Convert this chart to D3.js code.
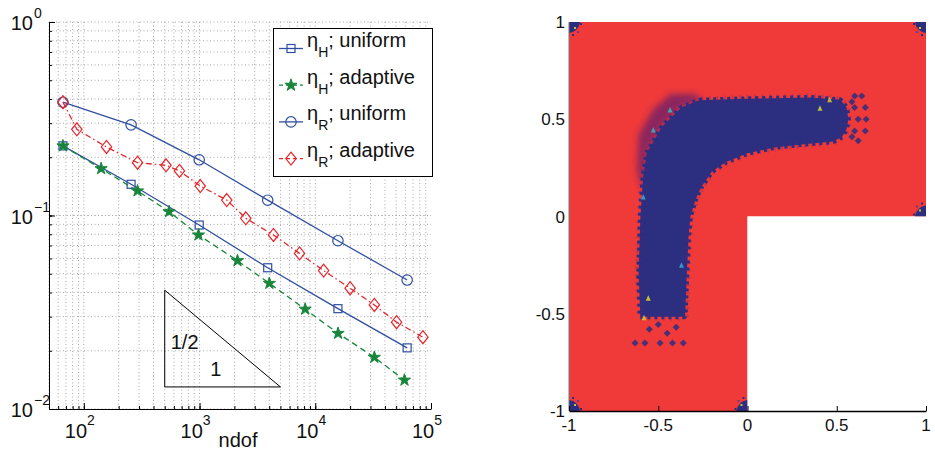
<!DOCTYPE html>
<html>
<head>
<meta charset="utf-8">
<script src="https://cdn.jsdelivr.net/npm/d3@7"></script>
<style>
  body { margin: 0; background: #fff; }
  text { font-family: "Liberation Sans", Arial, sans-serif; fill: #111; }
</style>
</head>
<body>
<script>
// Estimator decay on the L-shaped domain (left) and the indicator field (right)

// ndof of each refinement step
var ndofUniform   = [66, 256, 993, 3880, 15700, 62200];
var ndofHAdaptive = [66, 141, 291, 545, 979, 2128, 4010, 8180, 15740, 32400, 59000];
var ndofRAdaptive = [66, 87, 157, 291, 513, 670, 1014, 1718, 2510, 4350, 7310, 11800, 20000, 32400, 50400, 85100];

// estimator values
var etaHUniform  = [0.229, 0.145, 0.0893, 0.0537, 0.0330, 0.0207];
var etaRUniform  = [0.385, 0.294, 0.194, 0.120, 0.0741, 0.0464];
var etaHAdaptive = [0.229, 0.1746, 0.134, 0.1047, 0.0793, 0.0584, 0.0446, 0.0328, 0.0246, 0.0185, 0.0141];
var etaRAdaptive = [0.385, 0.279, 0.226, 0.1874, 0.1817, 0.170, 0.142, 0.1202, 0.0967, 0.0793, 0.0637, 0.0519, 0.0421, 0.0345, 0.0281, 0.0235];

// decade tick exponents
var xExponents = [2, 3, 4, 5];
var yExponents = [0, -1, -2];

// slope triangle: one decade in ndof, half a decade in eta
var triNdof = [500, 5000];
var triEta  = [0.013, 0.013 * Math.sqrt(10)];

// right panel: domain, band of marked cells, corner clusters
var lDomain = [[-1, -1], [0, -1], [0, 0], [1, 0], [1, 1], [-1, 1]];
var bandOutline = [
  [-0.60, -0.515], [-0.35, -0.515], [-0.34, -0.30], [-0.33, -0.10], [-0.32, 0.00],
  [-0.29, 0.09], [-0.26, 0.15], [-0.20, 0.23], [-0.12, 0.28], [0.00, 0.325],
  [0.15, 0.355], [0.30, 0.37], [0.48, 0.385], [0.53, 0.41], [0.555, 0.45],
  [0.565, 0.50], [0.555, 0.56], [0.52, 0.60], [0.35, 0.612], [0.00, 0.605],
  [-0.27, 0.598], [-0.37, 0.56], [-0.48, 0.46], [-0.565, 0.325], [-0.585, 0.20],
  [-0.60, 0.00], [-0.61, -0.30]
];
var cornerHalo = [
  [-0.585, 0.12], [-0.62, 0.24], [-0.61, 0.42], [-0.53, 0.55], [-0.43, 0.63],
  [-0.30, 0.63], [-0.25, 0.60], [-0.37, 0.56], [-0.48, 0.46], [-0.565, 0.325]
];
var cornerClusters = [[-1, 1, 1, -1], [1, 1, -1, -1], [1, 0, -1, 1], [-1, -1, 1, 1], [0, -1, -1, 1]];
var looseCells = [
  [0.60, 0.62], [0.64, 0.62], [0.60, 0.56], [0.66, 0.56], [0.62, 0.50], [0.665, 0.50],
  [0.60, 0.44], [0.66, 0.44], [0.62, 0.39], [0.585, 0.59], [0.585, 0.41],
  [-0.63, -0.65], [-0.575, -0.65], [-0.49, -0.65], [-0.42, -0.65], [-0.36, -0.65],
  [-0.55, -0.58], [-0.45, -0.60], [-0.40, -0.57], [-0.50, -0.555]
];
var speckles = [
  [-0.556, -0.42, "#e8d62a"], [0.406, 0.556, "#c9d93a"], [-0.528, 0.445, "#2fb5c9"],
  [-0.434, 0.548, "#33c2b8"], [-0.584, 0.10, "#3aa7d8"], [0.46, 0.60, "#d8c532"],
  [-0.37, -0.25, "#3aa7d8"], [-0.58, -0.52, "#e5c92c"]
];
var fieldTicks = [-1, -0.5, 0, 0.5, 1];

var blue = "#2f4fa0", green = "#17863a", red = "#e5262b";
var fieldRed = "#ef3a39", fieldBlue = "#2c2e80";

var svg = d3.select("body").append("svg")
  .attr("width", 935).attr("height", 455);

var defs = svg.append("defs");
defs.append("filter").attr("id", "soft").attr("x", "-30%").attr("y", "-30%")
  .attr("width", "160%").attr("height", "160%")
  .append("feGaussianBlur").attr("stdDeviation", 3);
defs.append("clipPath").attr("id", "lclip").append("polygon");

////////////////////////////////////////////////////////////////
// left panel: log-log convergence plot
var x = d3.scaleLog().domain([50, 1e5]).range([49, 431]);
var y = d3.scaleLog().domain([0.01, 1]).range([409, 22]);

var minorX = [], minorY = [];
[1, 2, 3, 4].forEach(function(e) {
  for (var k = 1; k < 10; k++) {
    var v = k * Math.pow(10, e);
    if (v >= 50 && v <= 1e5) minorX.push(v);
  }
});
[-2, -1].forEach(function(e) {
  for (var k = 1; k <= 10; k++) minorY.push(k * Math.pow(10, e));
});

var grid = svg.append("g");
grid.selectAll("line.gx").data(minorX).enter().append("line")
  .attr("x1", function(d) { return x(d); }).attr("x2", function(d) { return x(d); })
  .attr("y1", y(1)).attr("y2", y(0.01))
  .attr("stroke", "#a8a8a8").attr("stroke-width", 1).attr("stroke-dasharray", "1,2.5");
grid.selectAll("line.gy").data(minorY).enter().append("line")
  .attr("y1", function(d) { return y(d); }).attr("y2", function(d) { return y(d); })
  .attr("x1", x(50)).attr("x2", x(1e5))
  .attr("stroke", "#a8a8a8").attr("stroke-width", 1).attr("stroke-dasharray", "1,2.5");

// axes with inward ticks
var majorX = xExponents.map(function(e) { return Math.pow(10, e); });
var majorY = yExponents.map(function(e) { return Math.pow(10, e); });

svg.append("g").attr("transform", "translate(0," + y(0.01) + ")")
  .call(d3.axisBottom(x).tickValues(minorX).tickSize(-3).tickFormat(""))
  .call(function(g) { g.select(".domain").remove(); });
svg.append("g").attr("transform", "translate(0," + y(0.01) + ")")
  .call(d3.axisBottom(x).tickValues(majorX).tickSize(-6).tickSizeOuter(0).tickFormat(""));
svg.append("g").attr("transform", "translate(" + x(50) + ",0)")
  .call(d3.axisLeft(y).tickValues(minorY).tickSize(-3).tickFormat(""))
  .call(function(g) { g.select(".domain").remove(); });
svg.append("g").attr("transform", "translate(" + x(50) + ",0)")
  .call(d3.axisLeft(y).tickValues(majorY).tickSize(-6).tickSizeOuter(0).tickFormat(""));
svg.selectAll(".domain").attr("stroke", "#000");
svg.selectAll(".tick line").attr("stroke", "#000");

// decade labels written as 10^e
xExponents.forEach(function(e) {
  var t = svg.append("text").attr("x", x(Math.pow(10, e)) - 4).attr("y", 438)
    .attr("font-size", 20).attr("text-anchor", "middle");
  t.append("tspan").text("10");
  t.append("tspan").attr("font-size", 14).attr("dy", -13).text(String(e));
});
yExponents.forEach(function(e) {
  var ty = y(Math.pow(10, e));
  svg.append("text").attr("x", 33).attr("y", ty + 8)
    .attr("font-size", 20).attr("text-anchor", "end").text("10");
  svg.append("text").attr("x", 34).attr("y", ty - 4)
    .attr("font-size", 14).text(e === 0 ? "0" : "\u2212" + (-e));
});
svg.append("text").attr("x", 238).attr("y", 447)
  .attr("font-size", 20).attr("text-anchor", "middle").text("ndof");

// slope triangle
var tri = [[triNdof[0], triEta[1]], [triNdof[0], triEta[0]], [triNdof[1], triEta[0]]];
svg.append("path")
  .attr("d", d3.line().x(function(d) { return x(d[0]); }).y(function(d) { return y(d[1]); })(tri) + "Z")
  .attr("fill", "none").attr("stroke", "#000").attr("stroke-width", 1);
svg.append("text").attr("x", x(triNdof[0]) + 6).attr("y", y(0.0205))
  .attr("font-size", 20).text("1/2");
svg.append("text").attr("x", x(1380)).attr("y", y(0.0148))
  .attr("font-size", 20).attr("text-anchor", "middle").text("1");

// markers
function drawMarker(g, kind, color) {
  if (kind === "square") {
    g.append("rect").attr("x", -4).attr("y", -4).attr("width", 8).attr("height", 8)
      .attr("fill", "none").attr("stroke", color).attr("stroke-width", 1.2);
  } else if (kind === "circle") {
    g.append("circle").attr("r", 5.2)
      .attr("fill", "none").attr("stroke", color).attr("stroke-width", 1.2);
  } else if (kind === "diamond") {
    g.append("path").attr("d", "M0,-6.5L5.2,0L0,6.5L-5.2,0Z")
      .attr("fill", "none").attr("stroke", color).attr("stroke-width", 1.2);
  } else {
    g.append("path").attr("d", d3.symbol().type(d3.symbolStar).size(46)())
      .attr("fill", color).attr("stroke", color).attr("stroke-width", 1);
  }
}

var series = [
  { name: "H", label: "; uniform",  xs: ndofUniform,   ys: etaHUniform,  color: blue,  dash: null,          marker: "square" },
  { name: "H", label: "; adaptive", xs: ndofHAdaptive, ys: etaHAdaptive, color: green, dash: "6,4",         marker: "star" },
  { name: "R", label: "; uniform",  xs: ndofUniform,   ys: etaRUniform,  color: blue,  dash: null,          marker: "circle" },
  { name: "R", label: "; adaptive", xs: ndofRAdaptive, ys: etaRAdaptive, color: red,   dash: "6,3,1.5,3",   marker: "diamond" }
];

var line = d3.line().x(function(d) { return x(d[0]); }).y(function(d) { return y(d[1]); });
series.forEach(function(s) {
  var pts = s.xs.map(function(v, i) { return [v, s.ys[i]]; });
  svg.append("path").attr("d", line(pts))
    .attr("fill", "none").attr("stroke", s.color).attr("stroke-width", 1.3)
    .attr("stroke-dasharray", s.dash);
  pts.forEach(function(p) {
    drawMarker(svg.append("g").attr("transform", "translate(" + x(p[0]) + "," + y(p[1]) + ")"),
      s.marker, s.color);
  });
});

// legend
var legend = svg.append("g");
legend.append("rect").attr("x", 273.5).attr("y", 28.5).attr("width", 159).attr("height", 148)
  .attr("fill", "#fff").attr("stroke", "#000").attr("stroke-width", 1);
series.forEach(function(s, i) {
  var ly = 48.5 + i * 36.7;
  legend.append("line").attr("x1", 279).attr("x2", 303).attr("y1", ly).attr("y2", ly)
    .attr("stroke", s.color).attr("stroke-width", 1.3).attr("stroke-dasharray", s.dash ? "4,3" : null);
  drawMarker(legend.append("g").attr("transform", "translate(291," + ly + ")"), s.marker, s.color);
  var t = legend.append("text").attr("x", 307).attr("y", ly - 1.5).attr("font-size", 20);
  t.append("tspan").text("\u03b7");
  t.append("tspan").attr("font-size", 14).attr("dy", 10).text(s.name);
  t.append("tspan").attr("dy", -10).text(s.label);
});

////////////////////////////////////////////////////////////////
// right panel: indicator on the L-shaped domain
var fx = d3.scaleLinear().domain([-1, 1]).range([569, 926]);
var fy = d3.scaleLinear().domain([-1, 1]).range([411, 22]);
var poly = function(pts) {
  return pts.map(function(p) { return fx(p[0]) + "," + fy(p[1]); }).join(" ");
};

d3.select("#lclip polygon").attr("points", poly(lDomain));
var field = svg.append("g").attr("clip-path", "url(#lclip)");

field.append("polygon").attr("points", poly(lDomain)).attr("fill", fieldRed);

// smeared transition at the re-entrant band corner
field.append("polygon").attr("points", poly(cornerHalo))
  .attr("fill", "#7a2266").attr("opacity", 0.85).attr("filter", "url(#soft)");

// marked band, with a ragged rim
field.append("polygon").attr("points", poly(bandOutline)).attr("fill", fieldBlue);
field.append("polygon").attr("points", poly(bandOutline))
  .attr("fill", "none").attr("stroke", fieldBlue).attr("stroke-width", 5)
  .attr("stroke-dasharray", "3,4").attr("stroke-linejoin", "bevel");
field.append("polygon").attr("points", poly(bandOutline))
  .attr("fill", "none").attr("stroke", "#5a2a7a").attr("stroke-width", 8)
  .attr("stroke-opacity", 0.3).attr("stroke-dasharray", "1.5,6");

// isolated marked cells near the band ends
field.selectAll("path.cell").data(looseCells).enter().append("path")
  .attr("transform", function(d) { return "translate(" + fx(d[0]) + "," + fy(d[1]) + ")"; })
  .attr("d", "M0,-3.5L3.5,0L0,3.5L-3.5,0Z").attr("fill", fieldBlue).attr("opacity", 0.85);

// clusters at the outer corners
cornerClusters.forEach(function(c) {
  var cx = fx(c[0]), cy = fy(c[1]);
  var sx = c[2], sy = -c[3];
  var g = field.append("g").attr("transform", "translate(" + cx + "," + cy + ") scale(" + sx + "," + sy + ")");
  g.append("path").attr("d", "M0,0L11,0L10,4L7,8L4,10L0,11Z").attr("fill", fieldBlue);
  g.append("rect").attr("x", 11).attr("y", 1).attr("width", 2).attr("height", 2).attr("fill", fieldBlue);
  g.append("rect").attr("x", 3).attr("y", 12).attr("width", 2).attr("height", 2).attr("fill", fieldBlue);
  g.append("rect").attr("x", 8).attr("y", 9).attr("width", 2).attr("height", 2).attr("fill", "#6a3a8a");
  g.append("rect").attr("x", 5).attr("y", 5).attr("width", 2).attr("height", 2).attr("fill", "#c8c040");
});

// coloured speckles inside the rim
field.selectAll("path.speck").data(speckles).enter().append("path")
  .attr("transform", function(d) { return "translate(" + fx(d[0]) + "," + fy(d[1]) + ")"; })
  .attr("d", "M-2.5,2.5L2.5,2.5L0,-3Z").attr("fill", function(d) { return d[2]; })
  .attr("opacity", 0.85);

// axes of the field plot
svg.append("line").attr("x1", fx(-1)).attr("x2", fx(-1)).attr("y1", fy(1)).attr("y2", fy(-1))
  .attr("stroke", "#777").attr("stroke-width", 1);
svg.append("g").attr("transform", "translate(0," + fy(-1) + ")")
  .call(d3.axisBottom(fx).tickValues(fieldTicks).tickSize(-5).tickSizeOuter(0).tickFormat(""))
  .call(function(g) {
    g.select(".domain").attr("stroke", "#000").attr("stroke-width", 1.3);
    g.selectAll(".tick line").attr("stroke", "#000");
  });

svg.selectAll("text.fxl").data(fieldTicks).enter().append("text")
  .attr("x", function(d) { return fx(d); }).attr("y", 431)
  .attr("font-size", 17).attr("text-anchor", "middle")
  .text(function(d) { return d3.format("")(d).replace("\u2212", "-"); });
svg.selectAll("text.fyl").data(fieldTicks).enter().append("text")
  .attr("x", 565).attr("y", function(d) { return fy(d) + 6; })
  .attr("font-size", 17).attr("text-anchor", "end")
  .text(function(d) { return d3.format("")(d).replace("\u2212", "-"); });
</script>
</body>
</html>
